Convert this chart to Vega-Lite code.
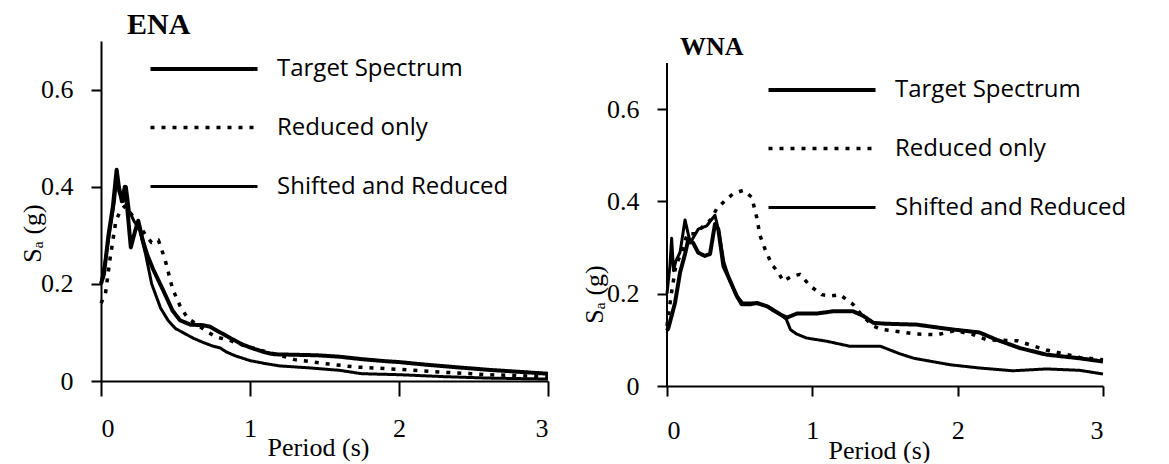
{
"$schema": "https://vega.github.io/schema/vega-lite/v6.json",
"background": "white",
"padding": {"left": 19, "top": 10, "right": 0, "bottom": 0},
"spacing": 31,
"datasets": {
"ena": [
{"series":"Target Spectrum","period":0,"sa":0.20},{"series":"Target Spectrum","period":0.02,"sa":0.22},{"series":"Target Spectrum","period":0.05,"sa":0.30},{"series":"Target Spectrum","period":0.08,"sa":0.36},{"series":"Target Spectrum","period":0.105,"sa":0.435},{"series":"Target Spectrum","period":0.12,"sa":0.40},{"series":"Target Spectrum","period":0.14,"sa":0.37},{"series":"Target Spectrum","period":0.16,"sa":0.40},{"series":"Target Spectrum","period":0.175,"sa":0.36},{"series":"Target Spectrum","period":0.20,"sa":0.275},{"series":"Target Spectrum","period":0.23,"sa":0.31},{"series":"Target Spectrum","period":0.25,"sa":0.33},{"series":"Target Spectrum","period":0.28,"sa":0.29},{"series":"Target Spectrum","period":0.31,"sa":0.26},{"series":"Target Spectrum","period":0.35,"sa":0.23},{"series":"Target Spectrum","period":0.42,"sa":0.185},{"series":"Target Spectrum","period":0.48,"sa":0.145},{"series":"Target Spectrum","period":0.53,"sa":0.125},{"series":"Target Spectrum","period":0.6,"sa":0.116},{"series":"Target Spectrum","period":0.68,"sa":0.115},{"series":"Target Spectrum","period":0.73,"sa":0.112},{"series":"Target Spectrum","period":0.8,"sa":0.10},{"series":"Target Spectrum","period":0.87,"sa":0.088},{"series":"Target Spectrum","period":0.95,"sa":0.075},{"series":"Target Spectrum","period":1.02,"sa":0.067},{"series":"Target Spectrum","period":1.1,"sa":0.059},{"series":"Target Spectrum","period":1.16,"sa":0.055},{"series":"Target Spectrum","period":1.3,"sa":0.054},{"series":"Target Spectrum","period":1.45,"sa":0.053},{"series":"Target Spectrum","period":1.6,"sa":0.05},{"series":"Target Spectrum","period":1.75,"sa":0.045},{"series":"Target Spectrum","period":1.9,"sa":0.041},{"series":"Target Spectrum","period":2.0,"sa":0.039},{"series":"Target Spectrum","period":2.2,"sa":0.033},{"series":"Target Spectrum","period":2.4,"sa":0.028},{"series":"Target Spectrum","period":2.6,"sa":0.023},{"series":"Target Spectrum","period":2.8,"sa":0.019},{"series":"Target Spectrum","period":3.0,"sa":0.015},
{"series":"Reduced only","period":0,"sa":0.16},{"series":"Reduced only","period":0.03,"sa":0.18},{"series":"Reduced only","period":0.06,"sa":0.25},{"series":"Reduced only","period":0.1,"sa":0.33},{"series":"Reduced only","period":0.13,"sa":0.35},{"series":"Reduced only","period":0.16,"sa":0.36},{"series":"Reduced only","period":0.2,"sa":0.345},{"series":"Reduced only","period":0.26,"sa":0.32},{"series":"Reduced only","period":0.3,"sa":0.30},{"series":"Reduced only","period":0.34,"sa":0.285},{"series":"Reduced only","period":0.385,"sa":0.29},{"series":"Reduced only","period":0.43,"sa":0.25},{"series":"Reduced only","period":0.48,"sa":0.19},{"series":"Reduced only","period":0.53,"sa":0.155},{"series":"Reduced only","period":0.58,"sa":0.13},{"series":"Reduced only","period":0.65,"sa":0.115},{"series":"Reduced only","period":0.72,"sa":0.10},{"series":"Reduced only","period":0.78,"sa":0.09},{"series":"Reduced only","period":0.85,"sa":0.085},{"series":"Reduced only","period":0.95,"sa":0.074},{"series":"Reduced only","period":1.05,"sa":0.065},{"series":"Reduced only","period":1.2,"sa":0.053},{"series":"Reduced only","period":1.3,"sa":0.044},{"series":"Reduced only","period":1.5,"sa":0.036},{"series":"Reduced only","period":1.7,"sa":0.029},{"series":"Reduced only","period":2.0,"sa":0.024},{"series":"Reduced only","period":2.3,"sa":0.018},{"series":"Reduced only","period":2.6,"sa":0.013},{"series":"Reduced only","period":3.0,"sa":0.009},
{"series":"Shifted and Reduced","period":0,"sa":0.20},{"series":"Shifted and Reduced","period":0.03,"sa":0.25},{"series":"Shifted and Reduced","period":0.06,"sa":0.31},{"series":"Shifted and Reduced","period":0.09,"sa":0.37},{"series":"Shifted and Reduced","period":0.105,"sa":0.42},{"series":"Shifted and Reduced","period":0.12,"sa":0.39},{"series":"Shifted and Reduced","period":0.15,"sa":0.37},{"series":"Shifted and Reduced","period":0.17,"sa":0.40},{"series":"Shifted and Reduced","period":0.19,"sa":0.35},{"series":"Shifted and Reduced","period":0.22,"sa":0.33},{"series":"Shifted and Reduced","period":0.26,"sa":0.31},{"series":"Shifted and Reduced","period":0.3,"sa":0.26},{"series":"Shifted and Reduced","period":0.34,"sa":0.20},{"series":"Shifted and Reduced","period":0.4,"sa":0.15},{"series":"Shifted and Reduced","period":0.45,"sa":0.125},{"series":"Shifted and Reduced","period":0.5,"sa":0.108},{"series":"Shifted and Reduced","period":0.56,"sa":0.098},{"series":"Shifted and Reduced","period":0.62,"sa":0.088},{"series":"Shifted and Reduced","period":0.68,"sa":0.08},{"series":"Shifted and Reduced","period":0.75,"sa":0.072},{"series":"Shifted and Reduced","period":0.8,"sa":0.068},{"series":"Shifted and Reduced","period":0.84,"sa":0.06},{"series":"Shifted and Reduced","period":0.9,"sa":0.052},{"series":"Shifted and Reduced","period":1.0,"sa":0.042},{"series":"Shifted and Reduced","period":1.1,"sa":0.036},{"series":"Shifted and Reduced","period":1.2,"sa":0.031},{"series":"Shifted and Reduced","period":1.4,"sa":0.027},{"series":"Shifted and Reduced","period":1.6,"sa":0.022},{"series":"Shifted and Reduced","period":1.75,"sa":0.015},{"series":"Shifted and Reduced","period":2.0,"sa":0.013},{"series":"Shifted and Reduced","period":2.3,"sa":0.009},{"series":"Shifted and Reduced","period":2.6,"sa":0.006},{"series":"Shifted and Reduced","period":3.0,"sa":0.004}
],
"wna": [
{"series":"Target Spectrum","period":0,"sa":0.12},{"series":"Target Spectrum","period":0.01,"sa":0.126},{"series":"Target Spectrum","period":0.055,"sa":0.18},{"series":"Target Spectrum","period":0.09,"sa":0.246},{"series":"Target Spectrum","period":0.124,"sa":0.286},{"series":"Target Spectrum","period":0.147,"sa":0.318},{"series":"Target Spectrum","period":0.18,"sa":0.31},{"series":"Target Spectrum","period":0.215,"sa":0.289},{"series":"Target Spectrum","period":0.26,"sa":0.282},{"series":"Target Spectrum","period":0.296,"sa":0.286},{"series":"Target Spectrum","period":0.33,"sa":0.351},{"series":"Target Spectrum","period":0.353,"sa":0.34},{"series":"Target Spectrum","period":0.388,"sa":0.26},{"series":"Target Spectrum","period":0.43,"sa":0.231},{"series":"Target Spectrum","period":0.48,"sa":0.195},{"series":"Target Spectrum","period":0.514,"sa":0.177},{"series":"Target Spectrum","period":0.571,"sa":0.177},{"series":"Target Spectrum","period":0.62,"sa":0.18},{"series":"Target Spectrum","period":0.686,"sa":0.173},{"series":"Target Spectrum","period":0.78,"sa":0.155},{"series":"Target Spectrum","period":0.824,"sa":0.148},{"series":"Target Spectrum","period":0.893,"sa":0.157},{"series":"Target Spectrum","period":1.03,"sa":0.157},{"series":"Target Spectrum","period":1.145,"sa":0.162},{"series":"Target Spectrum","period":1.28,"sa":0.162},{"series":"Target Spectrum","period":1.35,"sa":0.152},{"series":"Target Spectrum","period":1.42,"sa":0.137},{"series":"Target Spectrum","period":1.5,"sa":0.135},{"series":"Target Spectrum","period":1.72,"sa":0.133},{"series":"Target Spectrum","period":1.925,"sa":0.124},{"series":"Target Spectrum","period":2.15,"sa":0.116},{"series":"Target Spectrum","period":2.27,"sa":0.10},{"series":"Target Spectrum","period":2.43,"sa":0.082},{"series":"Target Spectrum","period":2.61,"sa":0.068},{"series":"Target Spectrum","period":2.84,"sa":0.06},{"series":"Target Spectrum","period":3.0,"sa":0.053},
{"series":"Reduced only","period":0,"sa":0.13},{"series":"Reduced only","period":0.03,"sa":0.2},{"series":"Reduced only","period":0.06,"sa":0.26},{"series":"Reduced only","period":0.1,"sa":0.29},{"series":"Reduced only","period":0.14,"sa":0.33},{"series":"Reduced only","period":0.2,"sa":0.33},{"series":"Reduced only","period":0.26,"sa":0.35},{"series":"Reduced only","period":0.3,"sa":0.36},{"series":"Reduced only","period":0.342,"sa":0.384},{"series":"Reduced only","period":0.4,"sa":0.402},{"series":"Reduced only","period":0.456,"sa":0.417},{"series":"Reduced only","period":0.525,"sa":0.424},{"series":"Reduced only","period":0.583,"sa":0.409},{"series":"Reduced only","period":0.617,"sa":0.366},{"series":"Reduced only","period":0.64,"sa":0.326},{"series":"Reduced only","period":0.674,"sa":0.297},{"series":"Reduced only","period":0.72,"sa":0.264},{"series":"Reduced only","period":0.766,"sa":0.246},{"series":"Reduced only","period":0.80,"sa":0.227},{"series":"Reduced only","period":0.858,"sa":0.238},{"series":"Reduced only","period":0.915,"sa":0.242},{"series":"Reduced only","period":0.984,"sa":0.217},{"series":"Reduced only","period":1.065,"sa":0.198},{"series":"Reduced only","period":1.12,"sa":0.195},{"series":"Reduced only","period":1.19,"sa":0.198},{"series":"Reduced only","period":1.28,"sa":0.177},{"series":"Reduced only","period":1.35,"sa":0.15},{"series":"Reduced only","period":1.42,"sa":0.13},{"series":"Reduced only","period":1.47,"sa":0.123},{"series":"Reduced only","period":1.7,"sa":0.113},{"series":"Reduced only","period":1.86,"sa":0.111},{"series":"Reduced only","period":1.98,"sa":0.12},{"series":"Reduced only","period":2.1,"sa":0.112},{"series":"Reduced only","period":2.2,"sa":0.10},{"series":"Reduced only","period":2.41,"sa":0.098},{"series":"Reduced only","period":2.61,"sa":0.078},{"series":"Reduced only","period":2.84,"sa":0.062},{"series":"Reduced only","period":3.0,"sa":0.057},
{"series":"Shifted and Reduced","period":0,"sa":0.2},{"series":"Shifted and Reduced","period":0.02,"sa":0.26},{"series":"Shifted and Reduced","period":0.032,"sa":0.32},{"series":"Shifted and Reduced","period":0.045,"sa":0.25},{"series":"Shifted and Reduced","period":0.06,"sa":0.27},{"series":"Shifted and Reduced","period":0.09,"sa":0.29},{"series":"Shifted and Reduced","period":0.124,"sa":0.36},{"series":"Shifted and Reduced","period":0.16,"sa":0.31},{"series":"Shifted and Reduced","period":0.215,"sa":0.34},{"series":"Shifted and Reduced","period":0.273,"sa":0.347},{"series":"Shifted and Reduced","period":0.33,"sa":0.37},{"series":"Shifted and Reduced","period":0.36,"sa":0.33},{"series":"Shifted and Reduced","period":0.39,"sa":0.27},{"series":"Shifted and Reduced","period":0.43,"sa":0.23},{"series":"Shifted and Reduced","period":0.48,"sa":0.195},{"series":"Shifted and Reduced","period":0.52,"sa":0.18},{"series":"Shifted and Reduced","period":0.6,"sa":0.18},{"series":"Shifted and Reduced","period":0.7,"sa":0.172},{"series":"Shifted and Reduced","period":0.78,"sa":0.155},{"series":"Shifted and Reduced","period":0.82,"sa":0.145},{"series":"Shifted and Reduced","period":0.85,"sa":0.122},{"series":"Shifted and Reduced","period":0.89,"sa":0.113},{"series":"Shifted and Reduced","period":0.96,"sa":0.104},{"series":"Shifted and Reduced","period":1.1,"sa":0.097},{"series":"Shifted and Reduced","period":1.26,"sa":0.086},{"series":"Shifted and Reduced","period":1.47,"sa":0.086},{"series":"Shifted and Reduced","period":1.6,"sa":0.07},{"series":"Shifted and Reduced","period":1.7,"sa":0.06},{"series":"Shifted and Reduced","period":1.95,"sa":0.046},{"series":"Shifted and Reduced","period":2.15,"sa":0.039},{"series":"Shifted and Reduced","period":2.38,"sa":0.033},{"series":"Shifted and Reduced","period":2.61,"sa":0.037},{"series":"Shifted and Reduced","period":2.84,"sa":0.034},{"series":"Shifted and Reduced","period":3.0,"sa":0.026}
]
},
"config": {
"view": {"stroke": null},
"axis": {"grid": false, "domainColor": "black", "domainWidth": 2, "tickColor": "black", "tickWidth": 2, "labelColor": "black", "labelFont": "Liberation Serif", "labelFontSize": 26, "titleColor": "black", "titleFont": "Liberation Serif", "titleFontSize": 26, "titleFontWeight": "normal"},
"legend": {"labelFont": "Open Sans", "labelFontSize": 24, "labelColor": "black", "labelLimit": 0, "symbolType": "M-5,0H5", "symbolSize": 458, "symbolStrokeColor": "black", "symbolFillColor": "transparent", "labelOffset": 60, "rowPadding": 34, "padding": 0},
"title": {"font": "Liberation Serif", "fontWeight": "bold", "color": "black", "anchor": "start", "frame": "group"}
},
"resolve": {"scale": {"strokeDash": "independent", "strokeWidth": "independent"}, "legend": {"strokeDash": "independent", "strokeWidth": "independent"}},
"hconcat": [
{
"width": 447, "height": 340,
"title": {"text": "ENA", "fontSize": 30, "dx": 26, "offset": 1},
"data": {"name": "ena"},
"mark": {"type": "line", "color": "black", "strokeJoin": "round"},
"encoding": {
"x": {"field": "period", "type": "quantitative", "scale": {"domain": [0, 3], "nice": false}, "axis": {"values": [0, 1, 2, 3], "tickSize": 15, "labelPadding": 19, "title": "Period (s)", "titleX": 217, "titleY": 74, "titleBaseline": "alphabetic", "titleAnchor": "middle"}},
"y": {"field": "sa", "type": "quantitative", "scale": {"domain": [0, 0.7], "nice": false}, "axis": {"values": [0, 0.2, 0.4, 0.6], "labelExpr": "datum.value == 0 ? '0' : format(datum.value, '.1f')", "tickSize": 10, "labelPadding": 18, "title": "Sₐ (g)", "titleX": -69, "titleY": 192, "titleBaseline": "middle", "titleAngle": -90}},
"strokeDash": {"field": "series", "type": "nominal", "scale": {"domain": ["Target Spectrum", "Reduced only", "Shifted and Reduced"], "range": [[1, 0], [4, 7], [1, 0]]}, "legend": {"title": null, "orient": "none", "legendX": 90, "legendY": 15}},
"strokeWidth": {"field": "series", "type": "nominal", "scale": {"domain": ["Target Spectrum", "Reduced only", "Shifted and Reduced"], "range": [4, 3, 1.5]}, "legend": {"title": null, "orient": "none", "legendX": 90, "legendY": 15}}
}
},
{
"width": 436, "height": 345,
"title": {"text": "WNA", "fontSize": 26, "dx": 13, "offset": 0, "dy": 19},
"data": {"name": "wna"},
"encoding": {
"x": {"field": "period", "type": "quantitative", "scale": {"domain": [0, 3], "nice": false}, "axis": {"values": [0, 1, 2, 3], "tickSize": 10, "labelPadding": 21, "title": "Period (s)", "titleX": 212, "titleY": 72, "titleBaseline": "alphabetic", "titleAnchor": "middle"}},
"y": {"field": "sa", "type": "quantitative", "scale": {"domain": [0, 0.7477], "nice": false}, "axis": {"domain": false, "values": [0, 0.2, 0.4, 0.6], "labelExpr": "datum.value == 0 ? '0' : format(datum.value, '.1f')", "tickSize": 10, "labelPadding": 18, "title": "Sₐ (g)", "titleX": -73, "titleY": 253, "titleBaseline": "middle", "titleAngle": -90}}
},
"layer": [
{
"mark": {"type": "rule", "color": "black", "strokeWidth": 2},
"encoding": {"x": {"datum": 0}, "y": {"datum": 0}, "y2": {"datum": 0.7}}
},
{
"mark": {"type": "line", "color": "black", "strokeJoin": "round"},
"encoding": {
"strokeDash": {"field": "series", "type": "nominal", "scale": {"domain": ["Target Spectrum", "Reduced only", "Shifted and Reduced"], "range": [[1, 0], [4, 7], [1, 0]]}, "legend": {"title": null, "orient": "none", "legendX": 142, "legendY": 36}},
"strokeWidth": {"field": "series", "type": "nominal", "scale": {"domain": ["Target Spectrum", "Reduced only", "Shifted and Reduced"], "range": [4, 3, 1.5]}, "legend": {"title": null, "orient": "none", "legendX": 142, "legendY": 36}}
}
}
]
}
]
}
